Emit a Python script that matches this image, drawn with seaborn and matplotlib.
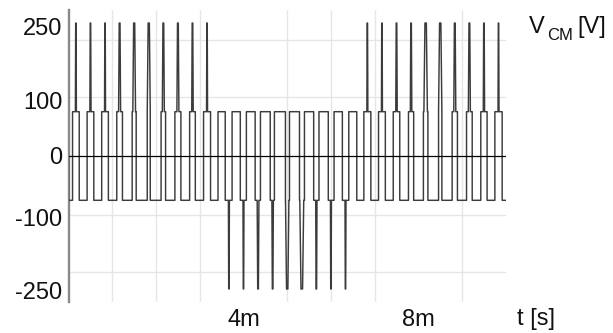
import numpy as np
import pandas as pd
import matplotlib
matplotlib.use("Agg")
import matplotlib.pyplot as plt
import seaborn as sns

# ---------------- data ----------------
carrier_period_ms = 1 / 3          # one switching period
level_small = 83.3                 # Vdc/6
level_big = 250.0                  # Vdc/2
t_end_ms = 10.0

# width of the +83 V pulse in each switching period (ms), centred in the period
hi_width_ms = [0.153, 0.153, 0.153, 0.130, 0.092, 0.069, 0.103, 0.137, 0.130, 0.160,
               0.165, 0.188, 0.201, 0.224, 0.252, 0.229, 0.211, 0.213, 0.190, 0.183,
               0.160, 0.156, 0.149, 0.119, 0.103, 0.076, 0.121, 0.130, 0.144, 0.167]
# width of the +250 V spike in the middle of each period (ms)
pos_spike_ms = [0.023, 0.027, 0.023, 0.046, 0.062, 0.069, 0.046, 0.046, 0.034, 0.023,
                0, 0, 0, 0, 0, 0, 0, 0, 0, 0,
                0.023, 0.023, 0.034, 0.034, 0.080, 0.076, 0.046, 0.046, 0.030, 0.023]
# width of the -250 V spike at the start edge of each period (ms)
neg_spike_ms = [0, 0, 0, 0, 0, 0, 0, 0, 0, 0,
                0, 0.023, 0.023, 0.040, 0.034, 0.080, 0.090, 0.030, 0.023, 0.023,
                0, 0, 0, 0, 0, 0, 0, 0, 0, 0]

y_tick_labels = ["250", "100", "0", "-100", "-250"]
x_tick_values = [4, 8]
x_tick_labels = ["4m", "8m"]

# ---------------- build the waveform polyline ----------------
n = len(hi_width_ms)
T = carrier_period_ms
centers = [(k + 0.5) * T for k in range(n)]
lefts = [centers[k] - hi_width_ms[k] / 2 for k in range(n)]
rights = [centers[k] + hi_width_ms[k] / 2 for k in range(n)]

ts = [0.0, 0.0]
vs = [0.0, -level_small]
for k in range(n):
    e = k * T
    if neg_spike_ms[k] > 0 and k > 0:
        half = min(neg_spike_ms[k] / 2, e - rights[k - 1] - 0.002, lefts[k] - e - 0.002)
        tip = 0.4 * half
        ts += [e - half, e - tip, e + tip, e + half]
        vs += [-level_small, -level_big, -level_big, -level_small]
    ts += [lefts[k], lefts[k]]
    vs += [-level_small, level_small]
    if pos_spike_ms[k] > 0:
        half = min(pos_spike_ms[k], hi_width_ms[k]) / 2
        tip = 0.4 * half
        c = centers[k]
        ts += [c - half, c - tip, c + tip, c + half]
        vs += [level_small, level_big, level_big, level_small]
    ts += [rights[k], rights[k]]
    vs += [level_small, -level_small]
ts.append(t_end_ms)
vs.append(-level_small)
df = pd.DataFrame({"t": ts, "v": vs})

# ---------------- plot ----------------
sns.set_theme(style="white")
plt.rcParams["font.family"] = ["Liberation Sans", "DejaVu Sans"]

W, H = 613, 333
fig = plt.figure(figsize=(W / 100, H / 100), dpi=100)
ax_l, ax_r, ax_t, ax_b = 68.6, 505.8, 10.0, 302.0
ax = fig.add_axes([ax_l / W, 1 - ax_b / H, (ax_r - ax_l) / W, (ax_b - ax_t) / H])

sns.lineplot(data=df, x="t", y="v", sort=False, estimator=None,
             color="#3c3c3c", linewidth=1.05, ax=ax, zorder=3)
ax.axhline(0, color="black", linewidth=0.9, zorder=4)

ax.set_xlim(0, t_end_ms)
ax.set_ylim(-274.5, 274.5)

# ticks / labels
ax.set_xticks(x_tick_values)
ax.set_xticklabels(x_tick_labels)
ax.set_xticks(np.arange(1, 10), minor=True)
ax.set_yticks([243, 105, 0, -115, -252])
ax.set_yticklabels(y_tick_labels)
ax.set_yticks([219, 110, -110, -219], minor=True)
ax.tick_params(axis="both", which="both", length=0, labelsize=17, colors="#111111")
ax.tick_params(axis="y", pad=4.5)
ax.tick_params(axis="x", pad=5)
ax.grid(False)
ax.grid(True, which="minor", color="#e6e6e6", linewidth=1.0, zorder=0)
ax.set_xlabel("")
ax.set_ylabel("")

for s in ["top", "right", "bottom"]:
    ax.spines[s].set_visible(False)
ax.spines["left"].set_color("#8a8a8a")
ax.spines["left"].set_linewidth(1.7)

# axis titles
fig.text(517.3 / W, 1 - 318.5 / H, "t [s]", fontsize=17, ha="left", va="center", color="#111111")
fig.text(529 / W, 1 - 33.3 / H, "V", fontsize=17, ha="left", va="baseline", color="#111111")
fig.text(547 / W, 1 - 40 / H, "CM", fontsize=12, ha="left", va="baseline", color="#111111")
fig.text(577 / W, 1 - 33.3 / H, "[V]", fontsize=17, ha="left", va="baseline", color="#111111")

fig.savefig("out.png", dpi=100)
